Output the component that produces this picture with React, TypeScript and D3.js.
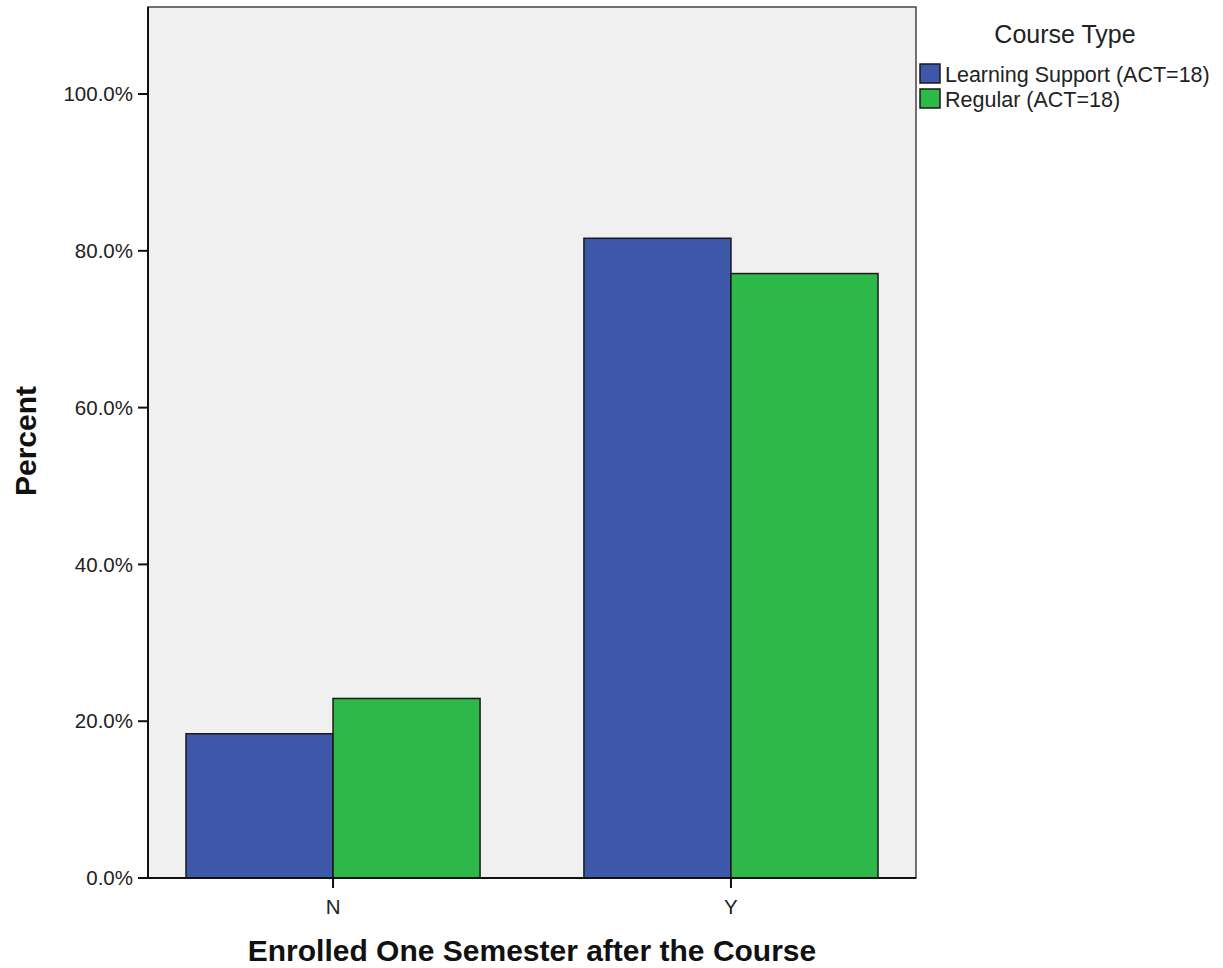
import React from "react";
import * as d3 from "d3";

const categories = ["N", "Y"];
const seriesNames = ["Learning Support (ACT=18)", "Regular (ACT=18)"];
const learningSupport = [18.4, 81.6];
const regular = [22.9, 77.1];
const yTicks = [0, 20, 40, 60, 80, 100];
const colors = ["#3d58a9", "#2fb84a"];

const W = 1223;
const H = 968;
const plot = { left: 148, right: 916, top: 7, bottom: 878 };
const FONT = "Arial, 'Liberation Sans', sans-serif";

export default function App() {
  const x = d3
    .scaleBand<string>()
    .domain(categories)
    .range([plot.left, plot.right])
    .paddingInner(0.261)
    .paddingOuter(0.0955);
  const inner = d3
    .scaleBand<number>()
    .domain([0, 1])
    .range([0, x.bandwidth()]);
  const y = d3.scaleLinear().domain([0, 111.1]).range([plot.bottom, plot.top]);
  const series = [learningSupport, regular];

  return (
    <svg
      width={W}
      height={H}
      style={{ position: "absolute", left: 0, top: 0, background: "#fff" }}
      fontFamily={FONT}
    >
      <rect
        x={plot.left}
        y={plot.top}
        width={plot.right - plot.left}
        height={plot.bottom - plot.top}
        fill="#f0f0f0"
        stroke="#444"
        strokeWidth={1.5}
      />
      {categories.map((c, i) =>
        series.map((s, j) => (
          <rect
            key={c + j}
            x={(x(c) as number) + (inner(j) as number)}
            y={y(s[i])}
            width={inner.bandwidth()}
            height={plot.bottom - y(s[i])}
            fill={colors[j]}
            stroke="#1a1a1a"
            strokeWidth={1.5}
          />
        ))
      )}
      {/* y axis */}
      <line x1={plot.left} x2={plot.left} y1={plot.top} y2={plot.bottom} stroke="#111" strokeWidth={2} />
      {yTicks.map((t) => (
        <g key={t}>
          <line x1={plot.left - 10} x2={plot.left} y1={y(t)} y2={y(t)} stroke="#111" strokeWidth={2} />
          <text x={plot.left - 15} y={y(t)} dy="0.35em" textAnchor="end" fontSize={20.5} fill="#222">
            {t.toFixed(1) + "%"}
          </text>
        </g>
      ))}
      {/* x axis */}
      <line x1={plot.left} x2={plot.right} y1={plot.bottom} y2={plot.bottom} stroke="#111" strokeWidth={2} />
      {categories.map((c) => {
        const cx = (x(c) as number) + x.bandwidth() / 2;
        return (
          <g key={c}>
            <line x1={cx} x2={cx} y1={plot.bottom} y2={plot.bottom + 10} stroke="#111" strokeWidth={2} />
            <text x={cx} y={plot.bottom + 36} textAnchor="middle" fontSize={20.5} fill="#222">
              {c}
            </text>
          </g>
        );
      })}
      <text
        x={(plot.left + plot.right) / 2}
        y={961}
        textAnchor="middle"
        fontSize={30}
        fontWeight="bold"
        fill="#111"
      >
        Enrolled One Semester after the Course
      </text>
      <text
        transform={`translate(36, ${441}) rotate(-90)`}
        textAnchor="middle"
        fontSize={30}
        fontWeight="bold"
        fill="#111"
      >
        Percent
      </text>
      {/* legend */}
      <text x={1065} y={43} textAnchor="middle" fontSize={25} fill="#222">
        Course Type
      </text>
      {seriesNames.map((n, j) => (
        <g key={n}>
          <rect x={920} y={64 + j * 25} width={20} height={19} fill={colors[j]} stroke="#1a1a1a" strokeWidth={1.5} />
          <text x={945} y={82 + j * 25} fontSize={21.5} fill="#222">
            {n}
          </text>
        </g>
      ))}
    </svg>
  );
}
